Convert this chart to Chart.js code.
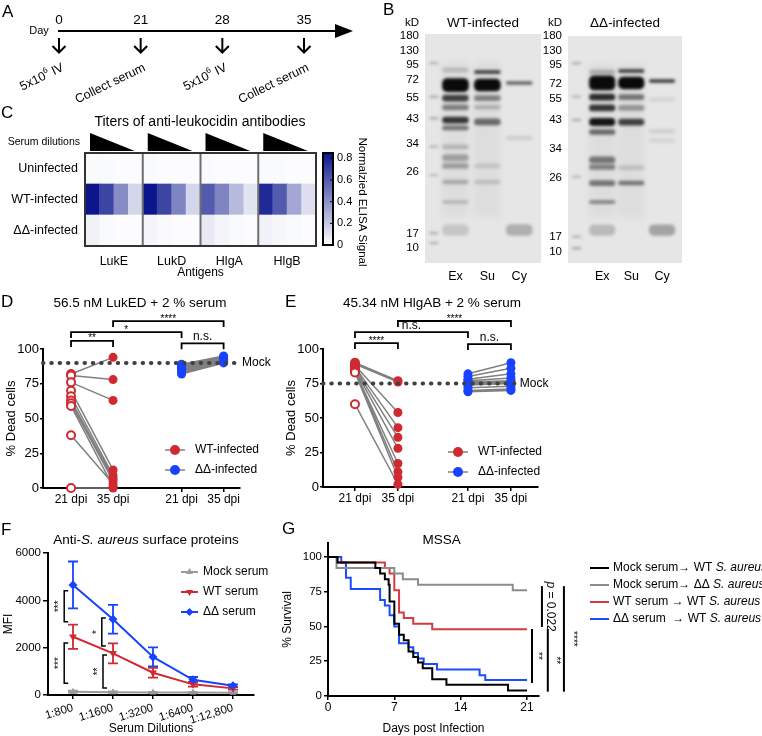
<!DOCTYPE html>
<html>
<head>
<meta charset="utf-8">
<title>Leukocidin antibody figure</title>
<script src="https://cdn.jsdelivr.net/npm/chart.js@4.4.1/dist/chart.umd.min.js"></script>
<style>
  body { margin: 0; background: #fff; }
  #fig { position: relative; width: 762px; height: 736px; overflow: hidden; background: #fff; }
  #fig canvas { position: absolute; }
  .lt { position: absolute; font: 17px 'Liberation Sans', Arial, sans-serif; line-height: 1; }
</style>
</head>
<body>
<div id="fig">
  <canvas id="chartA" width="380" height="110" style="left:0;top:0"></canvas>
  <canvas id="chartB1" width="170" height="285" style="left:380px;top:0"></canvas>
  <canvas id="chartB2" width="170" height="285" style="left:525px;top:0"></canvas>
  <canvas id="chartC" width="380" height="170" style="left:0;top:110px"></canvas>
  <canvas id="chartD" width="280" height="230" style="left:0;top:280px"></canvas>
  <canvas id="chartE" width="290" height="230" style="left:280px;top:280px"></canvas>
  <canvas id="chartF" width="290" height="226" style="left:0;top:510px"></canvas>
  <canvas id="chartG" width="487" height="226" style="left:275px;top:510px"></canvas>
  <div class="lt" style="left:2px;top:3px">A</div>
  <div class="lt" style="left:383px;top:1px">B</div>
  <div class="lt" style="left:1px;top:104px">C</div>
  <div class="lt" style="left:1px;top:293px">D</div>
  <div class="lt" style="left:285px;top:293px">E</div>
  <div class="lt" style="left:1px;top:521px">F</div>
  <div class="lt" style="left:282px;top:520px">G</div>
</div>
<script>
// ---------- data ----------

// A: immunisation timeline
const days = ['0', '21', '28', '35'];
const events = ['5x10^6^ IV', 'Collect serum', '5x10^6^ IV', 'Collect serum'];

// B: western blots (y = migration distance, 0 = top of gel)
const kdLabels = ['180', '130', '95', '72', '55', '43', '34', '26', '17', '10'];
const ladderWT = [0.9, 7.4, 13.5, 20.1, 27.9, 37.1, 48.0, 60.3, 87.3, 93.4];
const ladderDD = [0, 6.6, 12.8, 21.1, 27.8, 37.0, 49.8, 62.6, 88.5, 95.2];
const lanes = ['Ex', 'Su', 'Cy'];
const laneWT = [1.05, 2.15, 3.25];
const laneDD = [1.2, 2.22, 3.3];
// [lane (-1 = marker), migration, thickness, darkness]
const bandsWT = [
  [0, 15.7, 2, 0.18], [0, 22.3, 6, 1], [0, 28, 3, 0.75], [0, 32, 2.5, 0.45], [0, 37.6, 3, 0.8], [0, 41, 2, 0.5],
  [0, 49.3, 2, 0.2], [0, 54, 3, 0.3], [0, 57.6, 2.5, 0.3], [0, 64.6, 2, 0.25], [0, 73.4, 1.5, 0.2], [0, 85.6, 5, 0.14],
  [1, 16.6, 1.5, 0.8], [1, 22.3, 5.5, 1], [1, 28, 2.5, 0.45], [1, 32, 2, 0.22], [1, 38.4, 3, 0.55], [1, 57.6, 2, 0.12], [1, 64.6, 2, 0.15],
  [2, 21.4, 1.5, 0.6], [2, 45.4, 2, 0.1], [2, 85.6, 5, 0.25],
  [-1, 12.7, 0.8, 0.3], [-1, 27.4, 0.8, 0.3], [-1, 36.8, 0.8, 0.3], [-1, 49.2, 0.8, 0.3], [-1, 61.6, 0.8, 0.25], [-1, 87, 0.8, 0.3], [-1, 91.3, 0.8, 0.3]
];
const bandsDD = [
  [0, 15.9, 2, 0.25], [0, 20.7, 6.5, 1], [0, 26.9, 3, 0.85], [0, 31.7, 3, 0.8], [0, 37.9, 3.5, 0.95], [0, 42.3, 2.5, 0.55],
  [0, 54.6, 3, 0.5], [0, 57.7, 2.5, 0.45], [0, 64.8, 2.5, 0.5], [0, 73.1, 1.5, 0.45], [0, 85.5, 5, 0.2],
  [1, 15.4, 1.5, 0.8], [1, 20.7, 5.5, 1], [1, 26.9, 2.5, 0.5], [1, 31.7, 2.5, 0.35], [1, 37.9, 3, 0.75], [1, 58, 2, 0.15], [1, 64.8, 2, 0.5],
  [2, 19.8, 1.5, 0.8], [2, 28, 2, 0.08], [2, 42, 2, 0.1], [2, 46, 2, 0.08], [2, 85.5, 5, 0.3],
  [-1, 12, 0.8, 0.3], [-1, 26.7, 0.8, 0.3], [-1, 37, 0.8, 0.3], [-1, 62, 0.8, 0.25], [-1, 88.4, 0.8, 0.3], [-1, 93.5, 0.8, 0.35]
];

// C: ELISA heatmap, 4 dilutions per antigen
const heatRows = ['Uninfected', 'WT-infected', 'ΔΔ-infected'];
const antigens = ['LukE', 'LukD', 'HlgA', 'HlgB'];
const heatUninfected = [0.02, 0.02, 0.01, 0.01, 0.02, 0.01, 0.01, 0.01, 0.02, 0.01, 0.01, 0.01, 0.02, 0.02, 0.01, 0.01];
const heatWT = [0.85, 0.68, 0.42, 0.15, 0.86, 0.68, 0.45, 0.15, 0.6, 0.45, 0.25, 0.1, 0.78, 0.6, 0.32, 0.12];
const heatDD = [0.05, 0.02, 0.01, 0.01, 0.04, 0.02, 0.01, 0.01, 0.08, 0.04, 0.02, 0.01, 0.05, 0.03, 0.02, 0.01];
const colorbarTicks = [0, 0.2, 0.4, 0.6, 0.8];

// D / E: % dead cells, paired per mouse
const dpiLabels = ['21 dpi', '35 dpi', '21 dpi', '35 dpi'];
const dpiPos = [1, 2, 3.63, 4.63];
const deadTicks = [0, 25, 50, 75, 100];
const ledWT21 = [82, 81, 76, 70, 66, 63, 61, 59, 38, 0];
const ledWT35 = [94, 78, 63, 13, 9, 7, 5, 1, 3, 0];
const ledDD21 = [89, 88, 87, 86, 86, 85, 84, 84, 83, 82];
const ledDD35 = [95, 94, 93, 93, 92, 92, 92, 91, 91, 90];
const hlgWT21 = [90, 89, 88, 87, 86, 85, 84, 84, 83, 60];
const hlgWT35 = [77, 76, 54, 43, 36, 28, 17, 11, 7, 2];
const hlgDD21 = [82, 80, 78, 77, 76, 75, 74, 72, 70, 69];
const hlgDD35 = [90, 86, 82, 79, 77, 76, 75, 73, 71, 70];

// F: MFI vs serum dilution
const dilutions = ['1:800', '1:1600', '1:3200', '1:6400', '1:12,800'];
const mfiTicks = [0, 2000, 4000, 6000];
const mfiMock = [140, 120, 110, 105, 100];
const mfiMockErr = [40, 30, 25, 20, 20];
const mfiWT = [2460, 1760, 940, 450, 280];
const mfiWTErr = [510, 420, 210, 100, 50];
const mfiDD = [4650, 3200, 1610, 640, 390];
const mfiDDErr = [990, 610, 400, 120, 60];

// G: survival (day, % alive after that day)
const survTicksX = [0, 7, 14, 21];
const survTicksY = [0, 25, 50, 75, 100];
const survMockWT_t = [0, 1, 5, 5.5, 6, 6.4, 6.5, 7, 7.5, 8, 8.5, 9, 9.5, 10, 11, 12.5, 19, 21];
const survMockWT_s = [100, 96, 92, 88, 84, 80, 68, 52, 44, 40, 32, 28, 24, 20, 12, 8, 4, 4];
const survMockDD_t = [0, 0.9, 7, 7.9, 9.5, 19.5, 21];
const survMockDD_s = [100, 92, 88, 84, 80, 76, 76];
const survWT_t = [0, 1, 6, 6.5, 7, 7.5, 8, 9, 11, 21];
const survWT_s = [100, 96, 92, 88, 76, 60, 56, 52, 48, 48];
const survDD_t = [0, 1.4, 1.9, 2.4, 5.5, 6, 6.5, 7, 7.5, 8.5, 9, 9.5, 10.1, 11.5, 16, 16.6, 21];
const survDD_s = [100, 96, 85, 77, 69, 65, 58, 50, 38, 35, 31, 27, 23, 19, 15, 11.5, 11.5];
const survLabels = ['Mock serum→ WT _S. aureus_', 'Mock serum→ ΔΔ _S. aureus_', 'WT serum → WT _S. aureus_', 'ΔΔ serum  → WT _S. aureus_'];

// ---------- helpers ----------
const FONT = "'Liberation Sans', Arial, Helvetica, sans-serif";
Chart.defaults.font.family = FONT;
Chart.defaults.font.size = 12;
Chart.defaults.color = '#000';
Chart.defaults.plugins.legend.display = false;
Chart.defaults.plugins.tooltip.enabled = false;
const base = {responsive: false, animation: false, events: []};

const red = '#cf2a31', blue = '#1743ff', grey = '#808080';

function font(size, style) {
  return (style ? style + ' ' : '') + size + 'px ' + FONT;
}

// text with _italic_ and ^superscript^ parts
function label(ctx, s, x, y, size, align, rot) {
  const parts = [];
  s.split(/(_[^_]*_|\^[^^]*\^)/).forEach(t => {
    if (!t) return;
    if (t[0] === '_') parts.push({t: t.slice(1, -1), it: true, size: size});
    else if (t[0] === '^') parts.push({t: t.slice(1, -1), sup: true, size: size * 0.65});
    else parts.push({t: t, size: size});
  });
  ctx.save();
  ctx.fillStyle = '#000';
  ctx.textBaseline = 'middle';
  ctx.textAlign = 'left';
  let w = 0;
  parts.forEach(p => {
    ctx.font = font(p.size, p.it ? 'italic' : '');
    p.w = ctx.measureText(p.t).width;
    w += p.w;
  });
  ctx.translate(x, y);
  if (rot) ctx.rotate(rot);
  let cx = align === 'left' ? 0 : align === 'right' ? -w : -w / 2;
  parts.forEach(p => {
    ctx.font = font(p.size, p.it ? 'italic' : '');
    ctx.fillText(p.t, cx, p.sup ? -size * 0.35 : 0);
    cx += p.w;
  });
  ctx.restore();
}

function heatColor(v) {
  const t = Math.min(v / 0.85, 1);
  const c = [12, 22, 140];
  return 'rgb(' + c.map(k => Math.round(255 + (k - 255) * t)).join(',') + ')';
}

const axisLine = {display: true, color: '#000', width: 2};
const tickMarks = (len) => ({display: true, drawOnChartArea: false, drawTicks: true, tickLength: len, color: '#000', lineWidth: 1.5});
const noGrid = {display: false, drawTicks: false};

// ---------- A: timeline ----------
const timeline = {
  id: 'timeline',
  afterDraw(chart) {
    const {ctx, chartArea: a, scales: {x}} = chart;
    const y0 = a.top;
    ctx.save();
    ctx.strokeStyle = '#000';
    ctx.fillStyle = '#000';
    ctx.lineWidth = 2;
    ctx.beginPath();
    ctx.moveTo(a.left - 1, y0);
    ctx.lineTo(a.right + 34, y0);
    ctx.stroke();
    ctx.beginPath();
    ctx.moveTo(a.right + 31, y0 - 7);
    ctx.lineTo(a.right + 49, y0);
    ctx.lineTo(a.right + 31, y0 + 7);
    ctx.closePath();
    ctx.fill();
    days.forEach((d, i) => {
      const px = x.getPixelForValue(i);
      ctx.beginPath();
      ctx.moveTo(px, y0 + 7);
      ctx.lineTo(px, y0 + 21);
      ctx.moveTo(px - 6.5, y0 + 15);
      ctx.lineTo(px, y0 + 21.5);
      ctx.lineTo(px + 6.5, y0 + 15);
      ctx.stroke();
      label(ctx, events[i], px + 4, y0 + 36, 12.5, 'right', -26 * Math.PI / 180);
    });
    ctx.restore();
    label(ctx, 'Day', 39, y0, 11, 'center');
  }
};

new Chart(document.getElementById('chartA'), {
  type: 'line',
  data: {labels: days, datasets: [{data: [], pointRadius: 0}]},
  options: {
    ...base,
    layout: {padding: {left: 59, right: 76, top: 0, bottom: 0}},
    scales: {
      x: {position: 'top', offset: false, afterFit: s => { s.height = 31; },
          grid: noGrid, border: {display: false},
          ticks: {font: {size: 13.5}, padding: 3, maxRotation: 0, autoSkip: false}},
      y: {display: false, min: 0, max: 1}
    }
  },
  plugins: [timeline]
});

// ---------- B: blots ----------
function blotPlugin(title, laneX) {
  return {
    id: 'blot',
    beforeDatasetsDraw(chart) {
      const {ctx, chartArea: a, scales: {x, y}} = chart;
      ctx.save();
      ctx.fillStyle = '#e6e6e6';
      ctx.fillRect(a.left, a.top, a.right - a.left, a.bottom - a.top);
      ctx.filter = 'blur(3px)';
      ctx.fillStyle = 'rgba(0,0,0,0.035)';
      laneX.slice(0, 2).forEach(v => {
        const l = x.getPixelForValue(v - 0.45), r = x.getPixelForValue(v + 0.45);
        ctx.fillRect(l, y.getPixelForValue(12), r - l, y.getPixelForValue(80) - y.getPixelForValue(12));
      });
      ctx.filter = 'blur(1.5px)';
      const ds = chart.data.datasets[0];
      chart.getDatasetMeta(0).data.forEach((pt, i) => {
        const b = ds.data[i];
        const w = x.getPixelForValue(b.w) - x.getPixelForValue(0);
        const h = Math.max(1.5, y.getPixelForValue(b.h) - y.getPixelForValue(0));
        ctx.fillStyle = 'rgba(10,10,10,' + b.a + ')';
        ctx.beginPath();
        ctx.roundRect(pt.x - w / 2, pt.y - h / 2, w, h, Math.min(h / 2, 5));
        ctx.fill();
      });
      ctx.restore();
    },
    afterDraw(chart) {
      const {ctx, chartArea: a} = chart;
      label(ctx, 'kD', a.left - 6, 23, 11.5, 'right');
      label(ctx, title, (a.left + a.right) / 2, 23, 13.5, 'center');
    }
  };
}

function blotChart(id, title, ladder, laneX, bands, left, right, top) {
  return new Chart(document.getElementById(id), {
    type: 'scatter',
    data: {datasets: [{
      data: bands.map(b => ({x: b[0] < 0 ? 0.3 : laneX[b[0]], y: b[1], h: b[2], a: b[3], w: b[0] < 0 ? 0.32 : 0.92})),
      pointRadius: 0
    }]},
    options: {
      ...base,
      layout: {padding: {left: 0, right: right, top: top, bottom: 0}},
      scales: {
        x: {type: 'linear', min: 0, max: 4,
            afterBuildTicks: s => { s.ticks = laneX.map(v => ({value: v})); },
            afterFit: s => { s.height = 22; },
            grid: noGrid, border: {display: false},
            ticks: {callback: (v, i) => lanes[i], font: {size: 12.5}, padding: 6, maxRotation: 0, autoSkip: false}},
        y: {type: 'linear', min: 0, max: 100, reverse: true,
            afterBuildTicks: s => { s.ticks = ladder.map(v => ({value: v})); },
            afterFit: s => { s.width = left; },
            grid: noGrid, border: {display: false},
            ticks: {callback: (v, i) => kdLabels[i], font: {size: 11.5}, padding: 6, autoSkip: false}}
      }
    },
    plugins: [blotPlugin(title, laneX)]
  });
}
blotChart('chartB1', 'WT-infected', ladderWT, laneWT, bandsWT, 45, 9, 34);
blotChart('chartB2', 'ΔΔ-infected', ladderDD, laneDD, bandsDD, 43, 13, 36);

// ---------- C: heatmap ----------
const heatDecor = {
  id: 'heatDecor',
  afterDraw(chart) {
    const {ctx, chartArea: a, scales: {x}} = chart;
    ctx.save();
    ctx.lineWidth = 2;
    ctx.strokeStyle = '#6e6e6e';
    [4, 8, 12].forEach(v => {
      const px = x.getPixelForValue(v);
      ctx.beginPath();
      ctx.moveTo(px, a.top);
      ctx.lineTo(px, a.bottom);
      ctx.stroke();
    });
    ctx.strokeStyle = '#333';
    ctx.strokeRect(a.left, a.top, a.right - a.left, a.bottom - a.top);
    // dilution wedges
    ctx.fillStyle = '#000';
    antigens.forEach((g, i) => {
      const x0 = x.getPixelForValue(i * 4) + 5, x1 = x.getPixelForValue(i * 4 + 4) - 8;
      ctx.beginPath();
      ctx.moveTo(x0, a.top - 20);
      ctx.lineTo(x1, a.top - 2);
      ctx.lineTo(x0, a.top - 2);
      ctx.closePath();
      ctx.fill();
    });
    // colour bar
    const l = a.right + 7, r = a.right + 17, t = a.top, b = a.bottom - 1;
    const grad = ctx.createLinearGradient(0, b, 0, t);
    grad.addColorStop(0, heatColor(0));
    grad.addColorStop(1, heatColor(0.85));
    ctx.fillStyle = grad;
    ctx.fillRect(l, t, r - l, b - t);
    ctx.strokeStyle = '#000';
    ctx.strokeRect(l, t, r - l, b - t);
    ctx.lineWidth = 1;
    colorbarTicks.forEach(v => {
      const py = b - v / 0.85 * (b - t);
      ctx.beginPath();
      ctx.moveTo(r - 3, py);
      ctx.lineTo(r, py);
      ctx.stroke();
      label(ctx, String(v), r + 4, py, 11, 'left');
    });
    ctx.restore();
    label(ctx, 'Normalzied ELISA Signal', 362, 92, 11.5, 'center', Math.PI / 2);
    label(ctx, 'Titers of anti-leukocidin antibodies', 200, 12, 14, 'center');
    label(ctx, 'Serum dilutions', 80, 32, 10.5, 'right');
  }
};

new Chart(document.getElementById('chartC'), {
  type: 'bar',
  data: {datasets: [heatDD, heatWT, heatUninfected].map(vals => ({
    data: vals.map((v, i) => ({x: i + 0.5, y: 1})),
    backgroundColor: vals.map(heatColor),
    borderWidth: 0, barPercentage: 1, categoryPercentage: 1
  }))},
  options: {
    ...base,
    layout: {padding: {left: 0, right: 64, top: 43, bottom: 0}},
    scales: {
      x: {type: 'linear', min: 0, max: 16, stacked: true, offset: false,
          afterBuildTicks: s => { s.ticks = antigens.map((g, i) => ({value: i * 4 + 2})); },
          afterFit: s => { s.height = 34; },
          grid: {display: false, drawTicks: false, offset: false}, border: {display: false},
          ticks: {callback: (v, i) => antigens[i], font: {size: 12.5}, padding: 8, maxRotation: 0, autoSkip: false},
          title: {display: true, text: 'Antigens', font: {size: 12}, padding: {top: 0, bottom: 0}}},
      y: {type: 'linear', min: 0, max: 3, stacked: true,
          afterBuildTicks: s => { s.ticks = [2.5, 1.5, 0.5].map(v => ({value: v})); },
          afterFit: s => { s.width = 85; },
          grid: noGrid, border: {display: false},
          ticks: {callback: (v, i) => heatRows[i], font: {size: 12.5}, padding: 7, autoSkip: false}}
    }
  },
  plugins: [heatDecor]
});

// ---------- D / E: paired dot plots ----------
function pairLine(a, b, p0, p1) {
  const pts = [];
  a.forEach((v, i) => { pts.push({x: p0, y: v}, {x: p1, y: b[i]}, {x: p1, y: null}); });
  return pts;
}

function dotDecor(o) {
  return {
    id: 'dotDecor',
    afterDraw(chart) {
      const {ctx, scales: {x, y}} = chart;
      label(ctx, o.title, o.titleX, 23, 13.5, 'center');
      label(ctx, 'Mock', x.getPixelForValue(o.mockEnd) + 5, y.getPixelForValue(o.mock), 12, 'left');
      ctx.save();
      ctx.strokeStyle = '#000';
      ctx.lineWidth = 1.8;
      o.sig.forEach(s => {
        const x0 = x.getPixelForValue(dpiPos[s.a]), x1 = x.getPixelForValue(dpiPos[s.b]);
        const yy = y.getPixelForValue(s.y);
        ctx.beginPath();
        ctx.moveTo(x0, yy + 6);
        ctx.lineTo(x0, yy);
        ctx.lineTo(x1, yy);
        ctx.lineTo(x1, yy + 6);
        ctx.stroke();
        if (s.t === 'n.s.') label(ctx, s.t, (x0 + x1) / 2, yy - 6.5, 12, 'center');
        else label(ctx, s.t, (x0 + x1) / 2, yy - 2.2, 10, 'center');
      });
      [['WT-infected', red], ['ΔΔ-infected', blue]].forEach((l, i) => {
        const ly = o.legY + i * 20;
        ctx.strokeStyle = grey;
        ctx.lineWidth = 1.5;
        ctx.beginPath();
        ctx.moveTo(o.legX - 10, ly);
        ctx.lineTo(o.legX + 10, ly);
        ctx.stroke();
        ctx.fillStyle = l[1];
        ctx.beginPath();
        ctx.arc(o.legX, ly, 5, 0, Math.PI * 2);
        ctx.fill();
        label(ctx, l[0], o.legX + 20, ly, 12, 'left');
      });
      ctx.restore();
    }
  };
}

function dotChart(id, o) {
  return new Chart(document.getElementById(id), {
    type: 'scatter',
    data: {datasets: [
      {data: [{x: o.xMin, y: o.mock}, {x: o.mockEnd, y: o.mock}], showLine: true, borderColor: '#404040',
       borderWidth: 4, borderDash: [0.5, 7.8], borderCapStyle: 'round', pointRadius: 0, clip: false},
      {data: o.wt21.map(v => ({x: dpiPos[0], y: v})), pointRadius: 4, borderWidth: 2, borderColor: red, backgroundColor: '#fff', clip: false},
      {data: o.wt35.map(v => ({x: dpiPos[1], y: v})), pointRadius: 4.5, borderWidth: 0, backgroundColor: red, clip: false},
      {data: o.dd21.map(v => ({x: dpiPos[2], y: v})), pointRadius: 4.5, borderWidth: 0, backgroundColor: blue, clip: false},
      {data: o.dd35.map(v => ({x: dpiPos[3], y: v})), pointRadius: 4.5, borderWidth: 0, backgroundColor: blue, clip: false},
      {data: pairLine(o.wt21, o.wt35, dpiPos[0], dpiPos[1]).concat(pairLine(o.dd21, o.dd35, dpiPos[2], dpiPos[3])),
       showLine: true, spanGaps: false, borderColor: grey, borderWidth: 1.5, pointRadius: 0, clip: false}
    ]},
    options: {
      ...base,
      layout: {padding: {left: 0, right: o.padRight, top: 69, bottom: 0}},
      scales: {
        x: {type: 'linear', min: o.xMin, max: o.xMax,
            afterBuildTicks: s => { s.ticks = dpiPos.map(v => ({value: v})); },
            afterFit: s => { s.height = o.xH; },
            grid: tickMarks(4), border: axisLine,
            ticks: {callback: (v, i) => dpiLabels[i], font: {size: 12}, padding: 0, maxRotation: 0, autoSkip: false}},
        y: {type: 'linear', min: 0, max: 100,
            afterBuildTicks: s => { s.ticks = deadTicks.map(v => ({value: v})); },
            afterFit: s => { s.width = 43; },
            grid: tickMarks(3), border: axisLine,
            ticks: {callback: v => String(v), font: {size: 13}, padding: 1},
            title: {display: true, text: '% Dead cells', font: {size: 13}, padding: {top: 4, bottom: 0}}}
      }
    },
    plugins: [dotDecor(o)]
  });
}

dotChart('chartD', {
  title: '56.5 nM LukED + 2 % serum', titleX: 140,
  wt21: ledWT21, wt35: ledWT35, dd21: ledDD21, dd35: ledDD35,
  mock: 90, mockEnd: 4.95, xMin: 0.333, xMax: 5.02, padRight: 40, xH: 22,
  legX: 175, legY: 170,
  sig: [{a: 0, b: 1, y: 105.8, t: '**'}, {a: 0, b: 2, y: 112.2, t: '*'}, {a: 1, b: 3, y: 120.1, t: '****'}, {a: 2, b: 3, y: 104.1, t: 'n.s.'}]
});
dotChart('chartE', {
  title: '45.34 nM HlgAB + 2 % serum', titleX: 152,
  wt21: hlgWT21, wt35: hlgWT35, dd21: hlgDD21, dd35: hlgDD35,
  mock: 75, mockEnd: 4.72, xMin: 0.256, xMax: 5.26, padRight: 32, xH: 23,
  legX: 178, legY: 172,
  sig: [{a: 0, b: 1, y: 104.3, t: '****'}, {a: 0, b: 2, y: 112.3, t: 'n.s.'}, {a: 1, b: 3, y: 120.3, t: '****'}, {a: 2, b: 3, y: 103.6, t: 'n.s.'}]
});

// ---------- F: MFI ----------
const mfiSig = [{x: 0.78, y0: 3100, y1: 4400, t: '***'}, {x: 0.78, y0: 500, y1: 2200, t: '***'},
                {x: 1.72, y0: 2070, y1: 3250, t: '*'}, {x: 1.75, y0: 300, y1: 1690, t: '**'}];
const mfiLegend = [
  {t: 'Mock serum', c: '#9a9a9a', s: 'triangle', r: 0},
  {t: 'WT serum', c: red, s: 'triangle', r: 180},
  {t: 'ΔΔ serum', c: blue, s: 'rectRot', r: 0}
];

const mfiDecor = {
  id: 'mfiDecor',
  beforeDatasetsDraw(chart) {
    const {ctx, scales: {x, y}} = chart;
    ctx.save();
    ctx.lineWidth = 1.8;
    chart.data.datasets.forEach(ds => {
      ctx.strokeStyle = ds.borderColor;
      ds.data.forEach((p, i) => {
        const px = x.getPixelForValue(p.x);
        const t = y.getPixelForValue(p.y + ds.err[i]), b = y.getPixelForValue(p.y - ds.err[i]);
        ctx.beginPath();
        ctx.moveTo(px, t); ctx.lineTo(px, b);
        ctx.moveTo(px - 5, t); ctx.lineTo(px + 5, t);
        ctx.moveTo(px - 5, b); ctx.lineTo(px + 5, b);
        ctx.stroke();
      });
    });
    ctx.restore();
  },
  afterDraw(chart) {
    const {ctx, scales: {x, y}} = chart;
    label(ctx, 'Anti-_S. aureus_ surface proteins', 146, 30, 13.5, 'center');
    ctx.save();
    mfiLegend.forEach((l, i) => {
      const ly = 62 + i * 20;
      ctx.strokeStyle = l.c;
      ctx.fillStyle = l.c;
      ctx.lineWidth = 2;
      ctx.beginPath();
      ctx.moveTo(181, ly);
      ctx.lineTo(198, ly);
      ctx.stroke();
      Chart.helpers.drawPoint(ctx, {pointStyle: l.s, radius: 4, rotation: l.r, borderWidth: 0}, 189.5, ly);
      label(ctx, l.t, 203, ly, 12, 'left');
    });
    ctx.strokeStyle = '#000';
    ctx.lineWidth = 1.5;
    mfiSig.forEach(s => {
      const px = x.getPixelForValue(s.x), t = y.getPixelForValue(s.y1), b = y.getPixelForValue(s.y0);
      ctx.beginPath();
      ctx.moveTo(px + 4, t);
      ctx.lineTo(px, t);
      ctx.lineTo(px, b);
      ctx.lineTo(px + 4, b);
      ctx.stroke();
      label(ctx, s.t, px - 5, (t + b) / 2, 10, 'center', -Math.PI / 2);
    });
    ctx.restore();
  }
};

function mfiSet(vals, errs, color, style, rot, r) {
  return {data: vals.map((v, i) => ({x: i + 1, y: v})), err: errs, showLine: true, borderColor: color, backgroundColor: color,
          borderWidth: 2, pointStyle: style, pointRotation: rot, pointRadius: r, pointBorderWidth: 0, clip: false};
}

new Chart(document.getElementById('chartF'), {
  type: 'scatter',
  data: {datasets: [
    mfiSet(mfiDD, mfiDDErr, blue, 'rectRot', 0, 4.5),
    mfiSet(mfiWT, mfiWTErr, red, 'triangle', 180, 4.5),
    mfiSet(mfiMock, mfiMockErr, '#9a9a9a', 'triangle', 0, 4)
  ]},
  options: {
    ...base,
    layout: {padding: {left: 0, right: 36, top: 43, bottom: 0}},
    scales: {
      x: {type: 'linear', min: 0.375, max: 5.525,
          afterBuildTicks: s => { s.ticks = dilutions.map((d, i) => ({value: i + 1})); },
          afterFit: s => { s.height = 41; },
          grid: tickMarks(4), border: axisLine,
          ticks: {callback: (v, i) => dilutions[i], font: {size: 11.5}, padding: 2, minRotation: 17, maxRotation: 17, autoSkip: false},
          title: {display: true, text: 'Serum Dilutions', font: {size: 12}, padding: {top: 1, bottom: 0}}},
      y: {type: 'linear', min: 0, max: 6000,
          afterBuildTicks: s => { s.ticks = mfiTicks.map(v => ({value: v})); },
          afterFit: s => { s.width = 48; },
          grid: tickMarks(5), border: axisLine,
          ticks: {callback: v => String(v), font: {size: 11.5}, padding: 2},
          title: {display: true, text: 'MFI', font: {size: 12}, padding: {top: 1, bottom: 0}}}
    }
  },
  plugins: [mfiDecor]
});

// ---------- G: survival ----------
const survColors = ['#000', '#8c8c8c', '#d43a3f', '#1a4dff'];
const survSig = [
  {x: 22.58, y0: 49.6, y1: 79, t: '_p_ = 0.022', dx: 8},
  {x: 21.53, y0: 9.4, y1: 48.2, t: '**', dx: 6},
  {x: 23.2, y0: 3.1, y1: 48.2, t: '**', dx: 8},
  {x: 24.9, y0: 3.1, y1: 79, t: '****', dx: 9}
];

const survDecor = {
  id: 'survDecor',
  afterDraw(chart) {
    const {ctx, scales: {x, y}} = chart;
    label(ctx, 'MSSA', 166.7, 30, 13.5, 'center');
    ctx.save();
    survLabels.forEach((t, i) => {
      const ly = 58 + i * 17;
      ctx.strokeStyle = survColors[i];
      ctx.lineWidth = 2;
      ctx.beginPath();
      ctx.moveTo(315, ly);
      ctx.lineTo(334, ly);
      ctx.stroke();
      label(ctx, t, 338, ly, 12, 'left');
    });
    ctx.strokeStyle = '#000';
    ctx.lineWidth = 2;
    survSig.forEach(s => {
      const px = x.getPixelForValue(s.x), t = y.getPixelForValue(s.y1), b = y.getPixelForValue(s.y0);
      ctx.beginPath();
      ctx.moveTo(px, t);
      ctx.lineTo(px, b);
      ctx.stroke();
      label(ctx, s.t, px + s.dx, (t + b) / 2, s.t.length > 4 ? 12 : 10, 'center', Math.PI / 2);
    });
    ctx.restore();
  }
};

function survSet(t, s, color) {
  return {data: t.map((d, i) => ({x: d, y: s[i]})), showLine: true, stepped: 'before', borderColor: color,
          borderWidth: 2, pointRadius: 0, clip: false};
}

new Chart(document.getElementById('chartG'), {
  type: 'scatter',
  data: {datasets: [
    survSet(survMockWT_t, survMockWT_s, survColors[0]),
    survSet(survMockDD_t, survMockDD_s, survColors[1]),
    survSet(survWT_t, survWT_s, survColors[2]),
    survSet(survDD_t, survDD_s, survColors[3])
  ]},
  options: {
    ...base,
    layout: {padding: {left: 0, right: 223, top: 33, bottom: 0}},
    scales: {
      x: {type: 'linear', min: 0, max: 22.27,
          afterBuildTicks: s => { s.ticks = survTicksX.map(v => ({value: v})); },
          afterFit: s => { s.height = 40; },
          grid: tickMarks(4), border: axisLine,
          ticks: {callback: v => String(v), font: {size: 12}, padding: 0, maxRotation: 0},
          title: {display: true, text: 'Days post Infection', font: {size: 12}, padding: {top: 0, bottom: 0}}},
      y: {type: 'linear', min: 0, max: 110,
          afterBuildTicks: s => { s.ticks = survTicksY.map(v => ({value: v})); },
          afterFit: s => { s.width = 53; },
          grid: tickMarks(4), border: axisLine,
          ticks: {callback: v => String(v), font: {size: 11.5}, padding: 2},
          title: {display: true, text: '% Survival', font: {size: 12}, padding: {top: 5, bottom: 0}}}
    }
  },
  plugins: [survDecor]
});
</script>
</body>
</html>
